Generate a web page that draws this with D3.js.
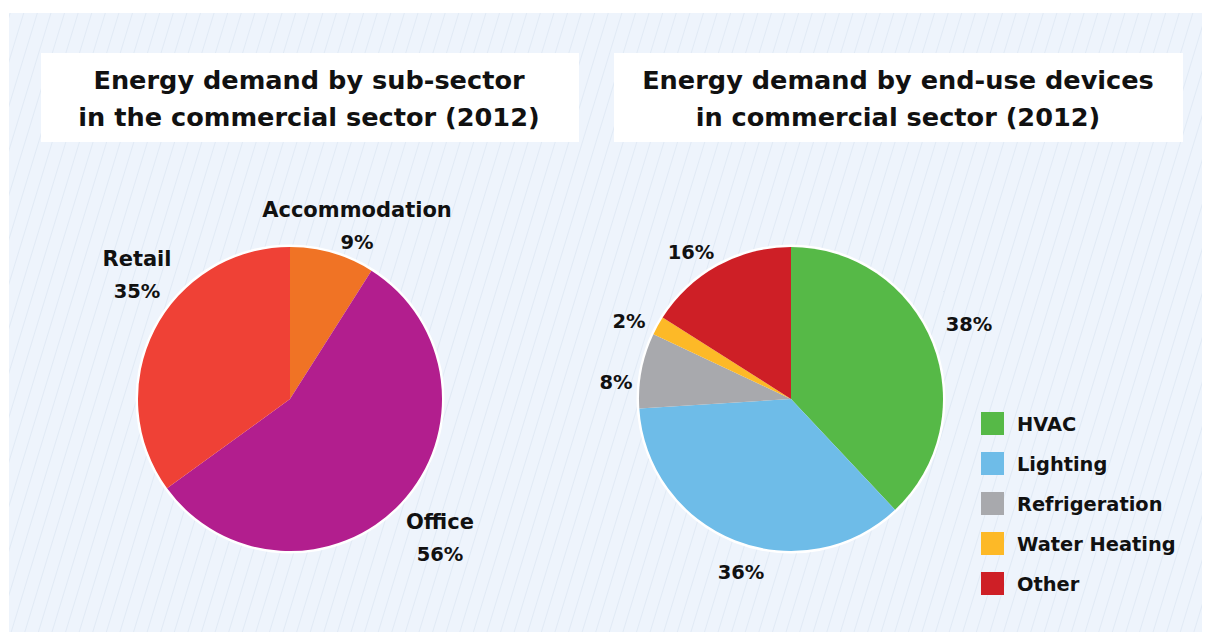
<!DOCTYPE html>
<html>
<head>
<meta charset="utf-8">
<script src="https://cdn.jsdelivr.net/npm/d3@7"></script>
<style>
  html, body { margin: 0; padding: 0; background: #ffffff; }
  svg { display: block; font-family: "DejaVu Sans", "Lato", sans-serif; }
</style>
</head>
<body>
<svg id="chart" width="1208" height="632"></svg>
<script>
// Sub-sector shares of commercial energy demand (2012)
const subSectors = ["Accommodation", "Office", "Retail"];
const subSectorValues = [9, 56, 35];
const subSectorColors = ["#F07325", "#B21E8E", "#EF4136"];

// End-use device shares (2012)
const endUses = ["HVAC", "Lighting", "Refrigeration", "Water Heating", "Other"];
const endUseValues = [38, 36, 8, 2, 16];
const endUseColors = ["#56B947", "#6EBCE8", "#A8A9AD", "#FDB927", "#CE1F26"];

const titles = [
  ["Energy demand by sub-sector", "in the commercial sector (2012)"],
  ["Energy demand by end-use devices", "in commercial sector (2012)"]
];

const svg = d3.select("#chart");

// striped background panel
const defs = svg.append("defs");
const pat = defs.append("pattern")
  .attr("id", "stripes")
  .attr("patternUnits", "userSpaceOnUse")
  .attr("width", 13).attr("height", 13)
  .attr("patternTransform", "rotate(17)");
pat.append("rect").attr("width", 13).attr("height", 13).attr("fill", "#EEF4FC");
pat.append("line").attr("x1", 0).attr("y1", 0).attr("x2", 0).attr("y2", 13)
  .attr("stroke", "#DCE6F2").attr("stroke-width", 1.4);

svg.append("rect")
  .attr("x", 9).attr("y", 13).attr("width", 1193).attr("height", 619)
  .attr("fill", "url(#stripes)");

// title boxes
const boxes = [{x: 41, w: 538, cx: 309}, {x: 614, w: 569, cx: 898}];
boxes.forEach((b, i) => {
  svg.append("rect").attr("x", b.x).attr("y", 53).attr("width", b.w).attr("height", 89)
    .attr("fill", "#ffffff");
  const t = svg.append("text")
    .attr("text-anchor", "middle")
    .attr("font-size", 25.6).attr("font-weight", 700).attr("fill", "#111");
  titles[i].forEach((line, j) => {
    t.append("tspan").attr("x", b.cx).attr("y", 89 + j * 37).text(line);
  });
});

const pie = d3.pie().sort(null).value(d => d);
const radius = 152;
const arc = d3.arc().innerRadius(0).outerRadius(radius);

function drawPie(cx, cy, values, colors) {
  const g = svg.append("g").attr("transform", `translate(${cx},${cy})`);
  g.append("circle").attr("r", radius + 1.5).attr("fill", "#ffffff")
    .attr("stroke", "#ffffff").attr("stroke-width", 2);
  g.selectAll("path").data(pie(values)).join("path")
    .attr("d", arc)
    .attr("fill", (d, i) => colors[i]);
  return g;
}

drawPie(290, 399, subSectorValues, subSectorColors);
drawPie(791, 399, endUseValues, endUseColors);

// slice labels
const labelStyle = (sel, size) => sel.attr("text-anchor", "middle").attr("font-size", size)
  .attr("font-weight", 700).attr("fill", "#111");

const subLabels = [
  {name: subSectors[0], v: subSectorValues[0], x: 357, y: 217},
  {name: subSectors[1], v: subSectorValues[1], x: 440, y: 529},
  {name: subSectors[2], v: subSectorValues[2], x: 137, y: 266}
];
subLabels.forEach(l => {
  svg.append("text").call(labelStyle, 21).attr("x", l.x).attr("y", l.y).text(l.name);
  svg.append("text").call(labelStyle, 19.5).attr("x", l.x).attr("y", l.y + 32).text(l.v + "%");
});

const endLabelPos = [[969, 331], [741, 579], [616, 389], [629, 328], [691, 259]];
endUseValues.forEach((v, i) => {
  svg.append("text").call(labelStyle, 19.5)
    .attr("x", endLabelPos[i][0]).attr("y", endLabelPos[i][1]).text(v + "%");
});

// legend
const legend = svg.append("g").attr("transform", "translate(981,412)");
endUses.forEach((name, i) => {
  const row = legend.append("g").attr("transform", `translate(0,${i * 40})`);
  row.append("rect").attr("width", 23).attr("height", 23).attr("fill", endUseColors[i]);
  row.append("text").attr("x", 36).attr("y", 19)
    .attr("font-size", 19.4).attr("font-weight", 700).attr("fill", "#111").text(name);
});
</script>
</body>
</html>
